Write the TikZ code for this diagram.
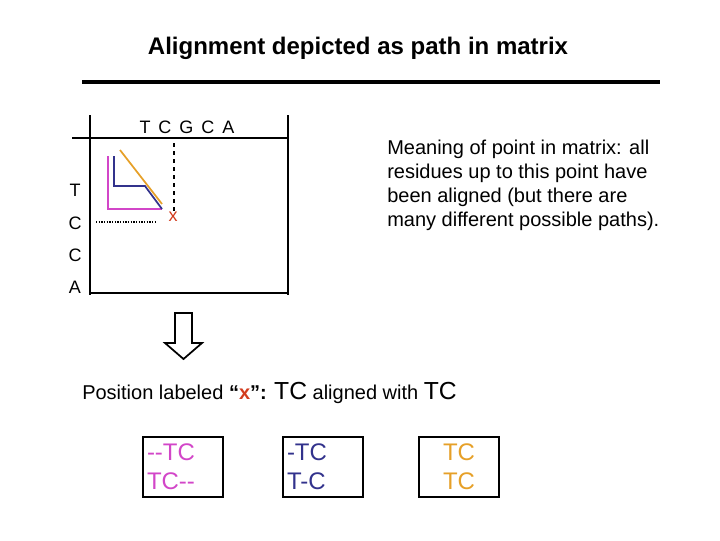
\documentclass[tikz,border=0pt]{standalone}
\usepackage{fontspec}
\setmainfont{Liberation Sans}
\begin{document}
\begin{tikzpicture}[x=0.75pt,y=-0.75pt,
  lbl/.style={inner sep=0pt,font=\fontsize{13.5}{16}\selectfont},
  abox/.style={draw,line width=1.5pt,minimum width=60pt,minimum height=45pt,text width=54pt,align=left,inner sep=2pt,font=\fontsize{18}{22}\selectfont}]
\definecolor{pk}{RGB}{210,70,200}
\definecolor{bl}{RGB}{50,50,140}
\definecolor{og}{RGB}{230,160,40}
\definecolor{rd}{RGB}{210,60,30}
\useasboundingbox (0,0) rectangle (720,540);
\node[font=\bfseries\fontsize{18}{22}\selectfont] (title) at (358,48) {Alignment depicted as path in matrix};
\draw[line width=3pt] (82,82) -- (660,82);
% matrix
\draw[line width=1.5pt] (90,115) -- (90,295);
\draw[line width=1.5pt] (288,115) -- (288,295);
\draw[line width=1.5pt] (72,138) -- (288,138);
\draw[line width=1.5pt] (90,293) -- (288,293);
\node[lbl] (hdr) at (187,127) {T\,\ C\,\ G\,\ C\,\ A};
\node[lbl] (r1) at (75,190) {T};
\node[lbl] (r2) at (75,223) {C};
\node[lbl] (r3) at (75,255) {C};
\node[lbl] (r4) at (75,287) {A};
\draw[pk,line width=1.3pt] (108,156) -- (108,209) -- (162,209);
\draw[bl,line width=1.3pt] (114,156) -- (114,186) -- (145,186) -- (162,209);
\draw[og,line width=1.3pt] (120,150) -- (162,204);
\draw[dashed,line width=1pt] (174,143) -- (174,211);
\draw[densely dotted,line width=1pt] (96,222) -- (156,222);
\node[lbl,text=rd] (x) at (173,217) {x};
\node[anchor=north west,inner sep=0pt,align=left,font=\fontsize{15}{18}\selectfont] (mean) at (387,140) {Meaning of point in matrix: all\\residues up to this point have\\been aligned (but there are\\many different possible paths).};
% hollow arrow
\draw[line width=1.3pt] (175,313) -- (192,313) -- (192,343) -- (202,343) -- (183.5,359) -- (165,343) -- (175,343) -- cycle;
\node[anchor=west,inner sep=0pt,font=\fontsize{15}{18}\selectfont] (pos) at (82,393) {Position labeled \textbf{``\textcolor{rd}{x}'':} {\fontsize{18.5}{18}\selectfont TC} aligned with {\fontsize{18.5}{18}\selectfont TC}};
\node[abox,text=pk] (b1) at (183,467) {-{}-TC\\TC-{}-};
\node[abox,text=bl] (b2) at (323,467) {-TC\\T-C};
\node[abox,text=og,align=center] (b3) at (459,467) {TC\\TC};
\end{tikzpicture}
\end{document}
